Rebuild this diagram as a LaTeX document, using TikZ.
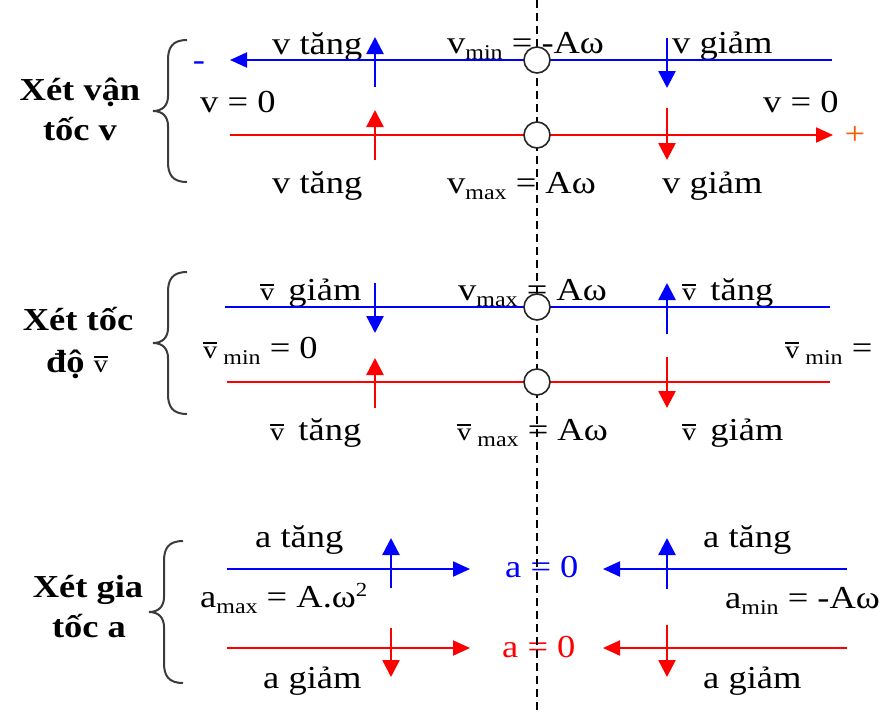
\documentclass[tikz,border=0pt]{standalone}
\usepackage{fontspec}
\setmainfont[FakeStretch=1.14]{Liberation Serif}
\usetikzlibrary{arrows.meta}
\definecolor{ublue}{RGB}{0,0,255}
\definecolor{ured}{RGB}{255,0,0}
\definecolor{uorange}{RGB}{255,90,0}
\definecolor{brgray}{RGB}{60,60,60}
\newcommand\sub[1]{\raisebox{-6pt}{\fontsize{21}{21}\selectfont #1}}
\newcommand\supsc[1]{\raisebox{11pt}{\fontsize{20}{20}\selectfont #1}}
\newcommand\vb{\vbox{\hrule height 1.6pt\kern 2.5pt\hbox{\fontsize{25}{25}\selectfont v}}}
\begin{document}
\begin{tikzpicture}[x=1pt,y=-1pt,
 lbl/.style={anchor=base west,inner sep=0pt,font=\fontsize{32}{32}\selectfont},
 heading/.style={anchor=base,inner sep=0pt,font=\fontsize{32}{32}\selectfont\bfseries},
 hline/.style={line width=2pt},
 arrowR/.style={-{Triangle[length=17pt,width=15pt]}},
 varrow/.style={line width=2.5pt,-{Triangle[length=17pt,width=17pt]}},
 ring/.style={circle,draw=black!85,fill=white,line width=1.6pt,minimum size=26pt,inner sep=0pt},
 brace/.pic={\draw[brgray,line width=2pt] (34,-71) .. controls (19,-71) and (15,-63) .. (15,-51) -- (15,-15) .. controls (15,-5) and (9,0) .. (0,0) .. controls (9,0) and (15,5) .. (15,15) -- (15,51) .. controls (15,63) and (19,71) .. (34,71);}
]
\useasboundingbox (0,0) rectangle (882,713);
\clip (0,0) rectangle (882,713);

% headings
\node[heading] (h1a) at (80,100) {Xét vận};
\node[heading] (h1b) at (80,140) {tốc v};
\node[heading] (h2a) at (78,330) {Xét tốc};
\node[heading] (h2b) at (77,372) {độ \mdseries\vb};
\node[heading] (h3a) at (88,597) {Xét gia};
\node[heading] (h3b) at (89,637) {tốc a};
\pic at (153,111) {brace};
\pic at (153,343) {brace};
\pic at (149,612) {brace};

% top labels
\node[lbl] (vt1) at (272,54) {v tăng};
\node[lbl] (vmin) at (447,53) {v\sub{min} = -Aω};
\node[lbl] (vg1) at (672,53) {v giảm};
\node[lbl] (v0L) at (200,112) {v = 0};
\node[lbl] (v0R) at (763,112) {v = 0};
\node[lbl] (vt2) at (272,193) {v tăng};
\node[lbl] (vmax) at (447,193) {v\sub{max} = Aω};
\node[lbl] (vg2) at (662,193) {v giảm};
\node[lbl,anchor=base,text=ublue] (minus) at (199,70) {-};
\node[lbl,anchor=base,text=uorange] (plus) at (855,144) {+};

% middle labels
\node[lbl] (sg1) at (260,300) {\vb\hspace{14pt}giảm};
\node[lbl] (smax1) at (458,300) {v\sub{max} = Aω};
\node[lbl] (st1) at (682,300) {\vb\hspace{14pt}tăng};
\node[lbl] (smin1) at (203,358) {\vb\hspace{6pt}\sub{min} = 0};
\node[lbl] (smin2) at (785,358) {\vb\hspace{6pt}\sub{min} =};
\node[lbl] (st2) at (270,440) {\vb\hspace{14pt}tăng};
\node[lbl] (smax2) at (457,440) {\vb\hspace{6pt}\sub{max} = Aω};
\node[lbl] (sg2) at (682,440) {\vb\hspace{14pt}giảm};

% bottom labels
\node[lbl] (at1) at (255,547) {a tăng};
\node[lbl] (amax) at (200,607) {a\sub{max} = A.ω\supsc{2}};
\node[lbl] (ag1) at (263,688) {a giảm};
\node[lbl,text=ublue] (a0b) at (505,577) {a = 0};
\node[lbl,text=ured] (a0r) at (502,657) {a = 0};
\node[lbl] (at2) at (703,547) {a tăng};
\node[lbl] (amin) at (725,608) {a\sub{min} = -Aω};
\node[lbl] (ag2) at (703,688) {a giảm};

% dashed axis
\coordinate (dTop) at (537,0);
\coordinate (dBot) at (537,713);
\draw[line width=1.5pt,dash pattern=on 8pt off 5pt] (dTop) -- (dBot);

% top lines
\coordinate (t1L) at (230,60); \coordinate (t1R) at (832,60);
\coordinate (t2L) at (230,135); \coordinate (t2R) at (833,135);
\draw[hline,ublue,arrowR] (t1R) -- (t1L);
\draw[hline,ured,arrowR] (t2L) -- (t2R);
\node[ring] (c1) at (537,60) {};
\node[ring] (c2) at (537,135) {};
\coordinate (a1s) at (375,87); \coordinate (a1e) at (375,37);
\coordinate (a2s) at (375,160); \coordinate (a2e) at (375,110);
\coordinate (a3s) at (667,38); \coordinate (a3e) at (667,88);
\coordinate (a4s) at (667,108); \coordinate (a4e) at (667,160);
\draw[varrow,ublue] (a1s) -- (a1e);
\draw[varrow,ured] (a2s) -- (a2e);
\draw[varrow,ublue] (a3s) -- (a3e);
\draw[varrow,ured] (a4s) -- (a4e);

% middle lines
\coordinate (m1L) at (225,307); \coordinate (m1R) at (830,307);
\coordinate (m2L) at (227,382); \coordinate (m2R) at (830,382);
\draw[hline,ublue] (m1L) -- (m1R);
\draw[hline,ured] (m2L) -- (m2R);
\node[ring] (c3) at (537,307) {};
\node[ring] (c4) at (537,382) {};
\coordinate (b1s) at (375,283); \coordinate (b1e) at (375,333);
\coordinate (b2s) at (375,408); \coordinate (b2e) at (375,358);
\coordinate (b3s) at (667,334); \coordinate (b3e) at (667,283);
\coordinate (b4s) at (667,357); \coordinate (b4e) at (667,408);
\draw[varrow,ublue] (b1s) -- (b1e);
\draw[varrow,ured] (b2s) -- (b2e);
\draw[varrow,ublue] (b3s) -- (b3e);
\draw[varrow,ured] (b4s) -- (b4e);

% bottom lines
\coordinate (n1L) at (227,569); \coordinate (n1M) at (470,569);
\coordinate (n1R) at (847,569); \coordinate (n1N) at (603,569);
\coordinate (n2L) at (227,648); \coordinate (n2M) at (470,648);
\coordinate (n2R) at (847,648); \coordinate (n2N) at (603,648);
\draw[hline,ublue,arrowR] (n1L) -- (n1M);
\draw[hline,ublue,arrowR] (n1R) -- (n1N);
\draw[hline,ured,arrowR] (n2L) -- (n2M);
\draw[hline,ured,arrowR] (n2R) -- (n2N);
\coordinate (e1s) at (391,588); \coordinate (e1e) at (391,538);
\coordinate (e2s) at (667,589); \coordinate (e2e) at (667,538);
\coordinate (e3s) at (391,628); \coordinate (e3e) at (391,677);
\coordinate (e4s) at (667,625); \coordinate (e4e) at (667,677);
\draw[varrow,ublue] (e1s) -- (e1e);
\draw[varrow,ublue] (e2s) -- (e2e);
\draw[varrow,ured] (e3s) -- (e3e);
\draw[varrow,ured] (e4s) -- (e4e);
\end{tikzpicture}
\end{document}
